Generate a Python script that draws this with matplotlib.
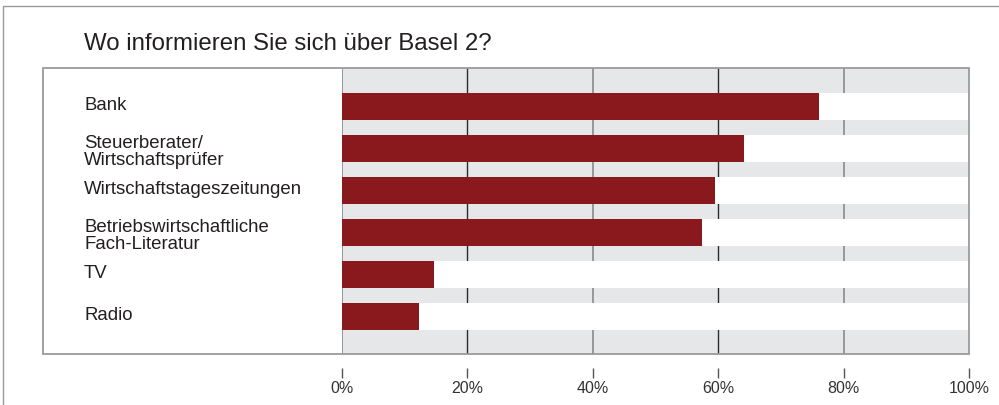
import matplotlib
matplotlib.use("Agg")
import matplotlib.pyplot as plt
from matplotlib.patches import Rectangle
from matplotlib.transforms import blended_transform_factory

plt.rcParams['font.family'] = ['Liberation Sans', 'DejaVu Sans']

title = "Wo informieren Sie sich über Basel 2?"
categories = ["Bank", "Steuerberater/\nWirtschaftsprüfer", "Wirtschaftstageszeitungen",
              "Betriebswirtschaftliche\nFach-Literatur", "TV", "Radio"]
values = [76.1, 64.1, 59.5, 57.4, 14.7, 12.3]
ticks = [0, 20, 40, 60, 80, 100]
tick_labels = ["0%", "20%", "40%", "60%", "80%", "100%"]

W, H = 999, 406
bar_color = "#8a191d"
band_gray = "#e6e7e8"
border = "#9a9a9c"
text_color = "#231f20"

fig = plt.figure(figsize=(W / 100, H / 100), dpi=100)

# outer frame (runs off the right/bottom edge)
fig.patches.append(Rectangle((3 / W, -0.05), 1.1, 1 - 7 / H + 0.05, transform=fig.transFigure,
                             fill=False, edgecolor=border, linewidth=1.0))
# inner box
fig.patches.append(Rectangle((43 / W, 1 - 355 / H), (969 - 43) / W, (355 - 69) / H,
                             transform=fig.transFigure, fill=False, edgecolor=border,
                             linewidth=1.3, zorder=5))

ax = fig.add_axes([342 / W, 1 - 355 / H, (969 - 342) / W, (355 - 69) / H])
ax.set_facecolor(band_gray)

rows = list(range(len(categories)))
bar_h = 0.643

grid_colors = {0: "#8a8a8c", 20: "#2b2b2b", 40: "#8a8a8c", 60: "#2b2b2b", 80: "#8a8a8c"}
for t, c in grid_colors.items():
    ax.axvline(t, color=c, linewidth=1.2 if c != "#2b2b2b" else 1.0, zorder=1)

ax.barh(rows, [100] * len(rows), height=bar_h, color="white", zorder=2)
ax.barh(rows, values, height=bar_h, color=bar_color, zorder=3)

ax.set_xlim(0, 100)
ax.set_ylim(5.905, -0.917)

for s in ax.spines.values():
    s.set_visible(False)
ax.spines['bottom'].set_position(('outward', 10))
ax.set_yticks([])
ax.set_xticks(ticks)
ax.set_xticklabels(tick_labels)
ax.tick_params(axis='x', direction='out', length=7, width=1, color="#555555",
               labelsize=11.5, labelcolor="#333333", pad=1.5)

trans = blended_transform_factory(fig.transFigure, ax.transData)
for r, lab in zip(rows, categories):
    dy = 0.06 if "\n" in lab else -0.04
    ax.text(84 / W, r + dy, lab, transform=trans, ha='left', va='center',
            fontsize=13.4, color=text_color, linespacing=1.0, clip_on=False)

fig.text(84 / W, 1 - 49.5 / H, title, ha='left', va='baseline', fontsize=17.3, color=text_color)

fig.savefig("out.png", dpi=100)
